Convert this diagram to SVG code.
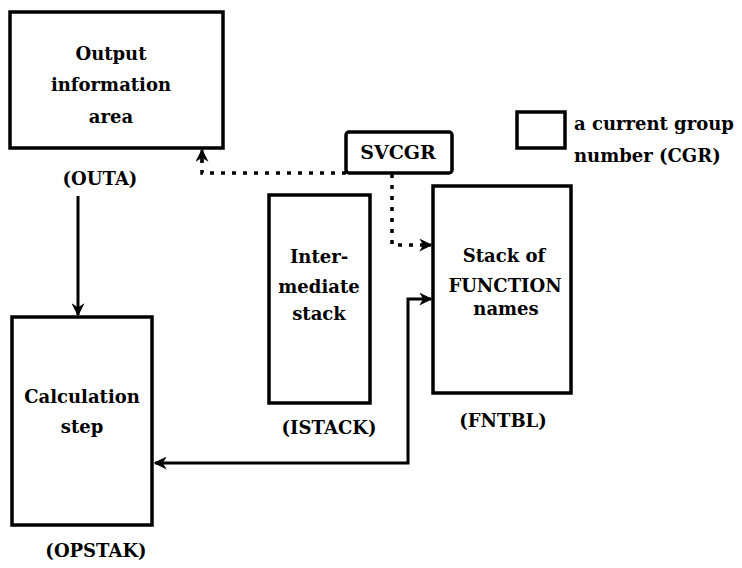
<svg xmlns="http://www.w3.org/2000/svg" width="742" height="568" viewBox="0 0 742 568">
<style>
.box{fill:#fff;stroke:#000;stroke-width:3.5}
.t{font-family:"DejaVu Serif","Liberation Serif",serif;font-weight:bold;font-size:18px;fill:#000;text-anchor:middle}
.tl{font-family:"DejaVu Serif","Liberation Serif",serif;font-weight:bold;font-size:18px;fill:#000}
.solid{fill:none;stroke:#000;stroke-width:3}
.dot{fill:none;stroke:#000;stroke-width:3.5;stroke-dasharray:4 7}
</style>
<defs>
<marker id="ahs" viewBox="0 0 10 10" refX="9" refY="5" markerWidth="13" markerHeight="13" orient="auto-start-reverse" markerUnits="userSpaceOnUse">
<path d="M0,0 L10,5 L0,10 L3,5 Z" fill="#000"/>
</marker>
</defs>
<rect width="742" height="568" fill="#fff"/>

<g id="connectors">
<path class="solid" d="M78,196 V315" marker-end="url(#ahs)"/>
<path class="dot" d="M346,173 H202 V152"/>
<path class="solid" d="M202,162 V150" marker-end="url(#ahs)"/>
<path class="dot" d="M392,174 V245 H424"/>
<path class="solid" d="M422,245 H431" marker-end="url(#ahs)"/>
<path class="solid" d="M155,463 H408 V299 H431" marker-start="url(#ahs)" marker-end="url(#ahs)"/>
</g>

<g id="outa">
<rect class="box" x="10" y="12" width="213" height="136"/>
<text class="t" x="111" y="60">Output</text>
<text class="t" x="111" y="91">information</text>
<text class="t" x="111" y="123">area</text>
<text class="t" x="100" y="185">(OUTA)</text>
</g>

<g id="svcgr">
<rect class="box" x="346" y="132" width="106" height="41" rx="3"/>
<text class="t" x="398" y="159" style="font-size:19px">SVCGR</text>
</g>

<g id="legend">
<rect class="box" x="517" y="112" width="48" height="36"/>
<text class="tl" x="574" y="130">a current group</text>
<text class="tl" x="574" y="162">number (CGR)</text>
</g>

<g id="istack">
<rect class="box" x="269" y="195" width="101" height="208"/>
<text class="t" x="319" y="263">Inter-</text>
<text class="t" x="319" y="293">mediate</text>
<text class="t" x="319" y="320">stack</text>
<text class="t" x="329" y="434">(ISTACK)</text>
</g>

<g id="fntbl">
<rect class="box" x="433" y="186" width="138" height="207"/>
<text class="t" x="504" y="262">Stack of</text>
<text class="t" x="505" y="292">FUNCTION</text>
<text class="t" x="506" y="315">names</text>
<text class="t" x="503" y="427">(FNTBL)</text>
</g>

<g id="opstak">
<rect class="box" x="12" y="317" width="140" height="208"/>
<text class="t" x="82" y="403">Calculation</text>
<text class="t" x="82" y="433">step</text>
<text class="t" x="96" y="557">(OPSTAK)</text>
</g>
</svg>
